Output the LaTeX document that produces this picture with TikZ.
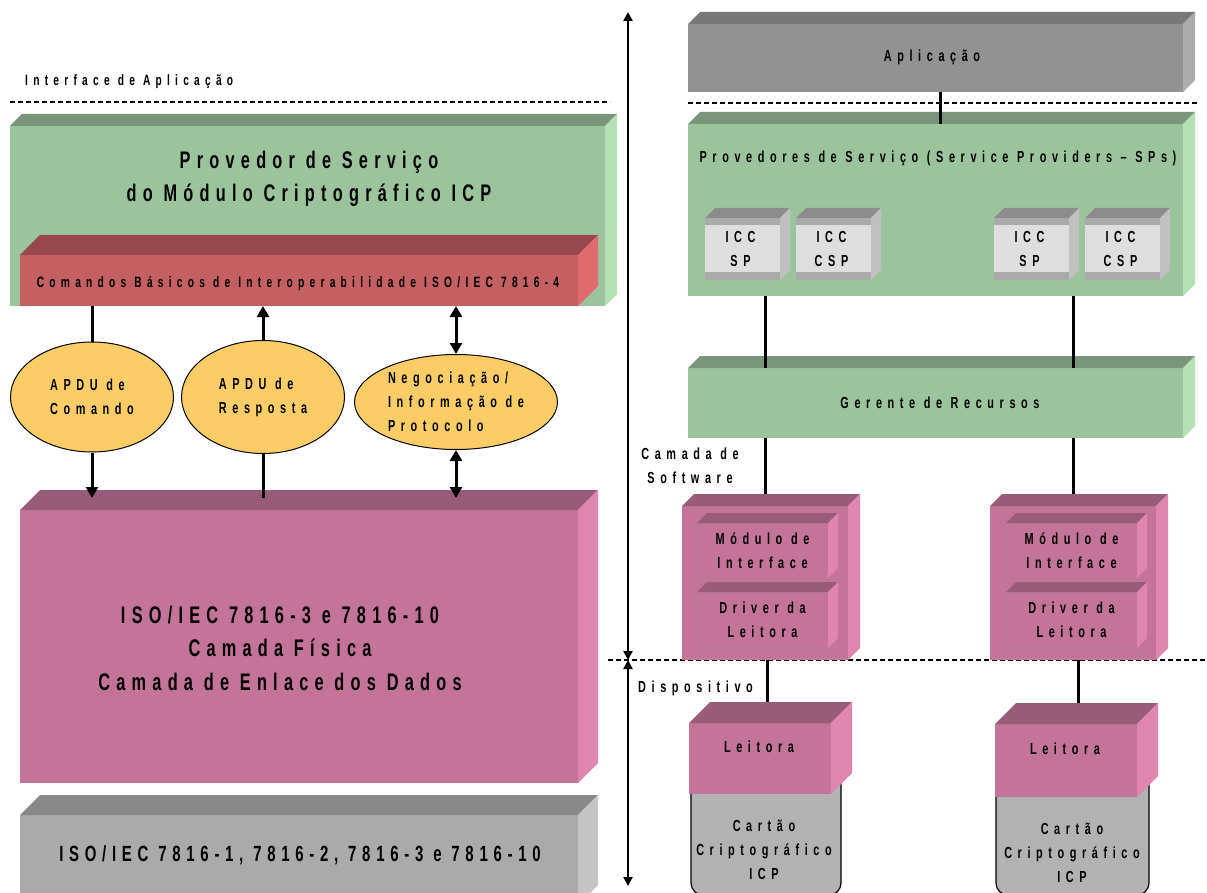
\documentclass[tikz,border=0pt]{standalone}
\usepackage{fontspec}
\newfontfamily\spfont{Liberation Sans}[FakeStretch=0.68,LetterSpace=35]
\newfontfamily\spbigfont{Liberation Sans}[FakeStretch=0.68,LetterSpace=26]
\usetikzlibrary{shapes.geometric,arrows.meta,positioning,calc}

\definecolor{grnfront}{RGB}{156,196,156}
\definecolor{grntop}{RGB}{122,150,122}
\definecolor{grnside}{RGB}{180,224,180}
\definecolor{redfront}{RGB}{196,96,98}
\definecolor{redtop}{RGB}{152,72,76}
\definecolor{redside}{RGB}{224,106,110}
\definecolor{pnkfront}{RGB}{196,116,152}
\definecolor{pnktop}{RGB}{152,92,120}
\definecolor{pnkside}{RGB}{224,132,176}
\definecolor{grafront}{RGB}{170,170,170}
\definecolor{gratop}{RGB}{136,136,136}
\definecolor{graside}{RGB}{196,196,196}
\definecolor{appfront}{RGB}{146,146,146}
\definecolor{apptop}{RGB}{120,120,120}
\definecolor{appside}{RGB}{172,172,172}
\definecolor{iccfront}{RGB}{222,222,222}
\definecolor{iccband}{RGB}{170,170,170}
\definecolor{icctop}{RGB}{140,140,140}
\definecolor{iccside}{RGB}{192,192,192}
\definecolor{apdufill}{RGB}{252,204,102}
\definecolor{cardfill}{RGB}{178,178,178}

% top and side faces of a box whose front is the node #1
\newcommand{\boxfaces}[4]{%
  \fill[#3] (#1.north west) -- ++(#2,-#2) -- ([shift={(#2,-#2)}]#1.north east) -- (#1.north east) -- cycle;
  \fill[#4] (#1.north east) -- ++(#2,-#2) -- ([shift={(#2,-#2)}]#1.south east) -- (#1.south east) -- cycle;
}

\tikzset{
  face/.style={anchor=north west, inner sep=0pt, outer sep=0pt, draw=none},
  lbl/.style={font=\spfont\bfseries\fontsize{16}{24}\selectfont, align=center, inner sep=0pt},
  lblsmall/.style={lbl, font=\spfont\bfseries\fontsize{15}{24}\selectfont},
  lblmid/.style={lbl, font=\spbigfont\bfseries\fontsize{22}{30}\selectfont},
  lblbig/.style={lbl, font=\spbigfont\bfseries\fontsize{24}{33.5}\selectfont},
  apdu/.style={ellipse, draw=black, line width=1pt, fill=apdufill, inner sep=0pt, align=left,
    font=\spfont\bfseries\fontsize{16}{24}\selectfont},
  link/.style={line width=3pt},
  tip/.tip={Triangle[length=11pt, width=12pt]},
  axis/.style={line width=2pt, {Triangle[length=9pt,width=9pt]}-{Triangle[length=9pt,width=9pt]}},
  sep/.style={line width=1.5pt, dash pattern=on 5pt off 3pt},
}

\begin{document}
\begin{tikzpicture}[x=1pt,y=-1pt]
\useasboundingbox (0,0) rectangle (1207,893);
\clip (0,0) rectangle (1207,893);

% ---------- left column
\node[lblsmall, anchor=west] (ifapp) at (25,82) {Interface de Aplicação};
\coordinate (sepLa) at (10,102);
\coordinate (sepLb) at (610,102);
\draw[sep] (sepLa) -- (sepLb);

\node[face, fill=grnfront, minimum width=595pt, minimum height=180pt] (spicp) at (10,126) {};
\boxfaces{spicp}{12}{grntop}{grnside}
\node[lblbig] (spicp-t) at (309,179) {Provedor de Serviço\\do Módulo Criptográfico ICP};

\node[face, fill=redfront, minimum width=558pt, minimum height=51pt] (basic) at (20,255) {};
\boxfaces{basic}{20}{redtop}{redside}
\node[lblsmall] (basic-t) at (298,284) {Comandos Básicos de Interoperabilidade ISO/IEC 7816-4};

\node[face, fill=pnkfront, minimum width=558pt, minimum height=273pt] (phys) at (20,510) {};
\boxfaces{phys}{20}{pnktop}{pnkside}
\node[lblbig] (phys-t) at (280,648) {ISO/IEC 7816-3 e 7816-10\\Camada Física\\Camada de Enlace dos Dados};
\coordinate (physin) at ([yshift=12pt]phys.north);

\node[face, fill=grafront, minimum width=558pt, minimum height=90pt] (mech) at (20,815) {};
\boxfaces{mech}{20}{gratop}{graside}
\node[lblmid] (mech-t) at (300,855) {ISO/IEC 7816-1, 7816-2, 7816-3 e 7816-10};

\node[apdu, minimum width=163pt, minimum height=110pt] (apduC) at (92,397) {APDU de\\Comando};
\node[apdu, minimum width=163pt, minimum height=113pt] (apduR) at (263,397) {APDU de\\Resposta};
\node[apdu, minimum width=203pt, minimum height=95pt] (negoc) at (456,402) {Negociação/\\Informação de\\Protocolo};

\draw[link] (apduC.north) -- (apduC.north |- basic.south);
\draw[link, -tip] (apduC.south) -- (apduC.south |- physin);
\draw[link, -tip] (apduR.north) -- (apduR.north |- basic.south);
\draw[link] (apduR.south) -- (apduR.south |- physin);
\draw[link, tip-tip] (negoc.north) -- (negoc.north |- basic.south);
\draw[link, tip-tip] (negoc.south) -- (negoc.south |- physin);

% ---------- layer axis
\coordinate (axtop) at (628,12);
\coordinate (axmid) at (628,660);
\coordinate (axbot) at (628,886);
\draw[axis] (axtop) -- (axmid);
\draw[axis] (axmid) -- (axbot);
\node[lbl] (layersw) at (690,466) {Camada de\\Software};
\node[lbl, anchor=west] (layerdev) at (638,688) {Dispositivo};

% ---------- right column
\node[face, fill=appfront, minimum width=495pt, minimum height=68pt] (app) at (688,24) {};
\boxfaces{app}{12}{apptop}{appside}
\node[lbl] (app-t) at (932,57) {Aplicação};

\coordinate (sepRa) at (688,103);
\coordinate (sepRb) at (1197,103);
\draw[sep] (sepRa) -- (sepRb);

\node[face, fill=grnfront, minimum width=495pt, minimum height=172pt] (sps) at (688,124) {};
\boxfaces{sps}{12}{grntop}{grnside}
\node[lbl] (sps-t) at (938,158) {Provedores de Serviço (Service Providers – SPs)};

\draw[link] ([xshift=5pt]app.south) -- ([xshift=5pt]app.south |- sps.north);

\foreach \nm/\x/\txt in {iccA/705/{ICC\\SP}, iccB/796/{ICC\\CSP}, iccC/994/{ICC\\SP}, iccD/1085/{ICC\\CSP}} {
  \node[face, fill=iccfront, minimum width=75pt, minimum height=62pt] (\nm) at (\x,218) {};
  \fill[iccband] (\nm.north west) rectangle ([yshift=-7pt]\nm.north east);
  \fill[iccband] ([yshift=8pt]\nm.south west) rectangle (\nm.south east);
  \boxfaces{\nm}{10}{icctop}{iccside}
  \node[lbl] (\nm-t) at ([xshift=-2pt]\nm) {\txt};
}

\node[face, fill=grnfront, minimum width=495pt, minimum height=70pt] (rm) at (688,368) {};
\boxfaces{rm}{12}{grntop}{grnside}
\node[lbl] (rm-t) at (940,403) {Gerente de Recursos};

\coordinate (sepDa) at (608,660);
\coordinate (sepDb) at (1207,660);
\draw[sep] (sepDa) -- (sepDb);

% reader software stacks
\foreach \st/\x/\ix in {A/682/697, B/990/1006} {
  \node[face, fill=pnkfront, minimum width=166pt, minimum height=154pt] (mod\st) at (\x,506) {};
  \boxfaces{mod\st}{12}{pnktop}{pnkside}
  \node[face, fill=pnkfront, draw=pnktop!80, line width=0.6pt, minimum width=131pt, minimum height=55pt] (ifc\st) at (\ix,523) {};
  \boxfaces{ifc\st}{10}{pnktop}{pnkside}
  \node[lbl] (ifc\st-t) at (ifc\st) {Módulo de\\Interface};
  \node[face, fill=pnkfront, draw=pnktop!80, line width=0.6pt, minimum width=131pt, minimum height=56pt] (drv\st) at (\ix,592) {};
  \boxfaces{drv\st}{10}{pnktop}{pnkside}
  \node[lbl] (drv\st-t) at (drv\st) {Driver da\\Leitora};
}

% readers and cards
\node[face, fill=cardfill, draw=black, line width=1.2pt, rounded corners=12pt, minimum width=150pt, minimum height=140pt] (cardA) at (691,755) {};
\node[face, fill=cardfill, draw=black, line width=1.2pt, rounded corners=12pt, minimum width=153pt, minimum height=140pt] (cardB) at (996,755) {};
\node[lbl] (cardA-t) at (764,850) {Cartão\\Criptográfico\\ICP};
\node[lbl] (cardB-t) at (1072,853) {Cartão\\Criptográfico\\ICP};

\node[face, fill=pnkfront, minimum width=142pt, minimum height=71pt] (leitA) at (689,723) {};
\boxfaces{leitA}{21}{pnktop}{pnkside}
\node[lbl] (leitA-t) at (759,747) {Leitora};
\node[face, fill=pnkfront, minimum width=142pt, minimum height=73pt] (leitB) at (995,724) {};
\boxfaces{leitB}{21}{pnktop}{pnkside}
\node[lbl] (leitB-t) at (1065,749) {Leitora};
\coordinate (leitAin) at ([yshift=21pt]leitA.north);
\coordinate (leitBin) at ([yshift=21pt]leitB.north);

% connectors
\foreach \st in {A,B} {
  \draw[link] (mod\st.north |- sps.south) -- (mod\st.north |- rm.north);
  \draw[link] (mod\st.north |- rm.south) -- ([yshift=12pt]mod\st.north);
}
\draw[link] ([xshift=2pt]modA.south) -- ([xshift=2pt]modA.south |- leitAin);
\draw[link] ([xshift=5pt]modB.south) -- ([xshift=5pt]modB.south |- leitBin);

\end{tikzpicture}
\end{document}
